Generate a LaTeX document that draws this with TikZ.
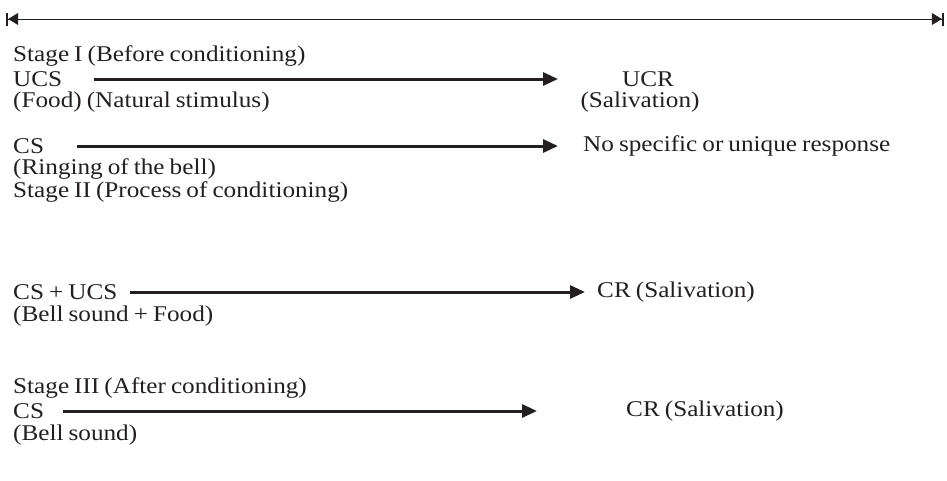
\documentclass[tikz,border=0pt]{standalone}
\usepackage{fontspec}
\setmainfont{Liberation Serif}[FakeStretch=1.12,WordSpace=0.8]
\usetikzlibrary{arrows.meta}
\definecolor{ink}{HTML}{231F20}
\begin{document}
\begin{tikzpicture}[x=1pt,y=-1pt,
  lbl/.style={anchor=west,inner sep=0pt,font=\fontsize{22.5}{25}\selectfont,text=ink},
  ctr/.style={anchor=center,inner sep=0pt,font=\fontsize{22.5}{25}\selectfont,text=ink},
  conn/.style={draw=ink,line width=3pt,-{Triangle[length=15pt,width=13pt]}},
  span/.style={draw=ink,line width=1pt,{Bar[width=13pt,line width=2.2pt]Triangle[length=10pt,width=12pt]}-{Triangle[length=10pt,width=12pt]Bar[width=13pt,line width=2.2pt]}}]
\useasboundingbox (0,0) rectangle (947,480);
% overall span line at the top
\coordinate (spanL) at (6,19);
\coordinate (spanR) at (944,19);
\draw[span] (spanL) -- (spanR);
% Stage I
\node[lbl] (s1) at (13,56) {Stage I (Before conditioning)};
\node[lbl] (ucs) at (13,79) {UCS};
\node[ctr] (ucr) at (648,79) {UCR};
\node[lbl] (food) at (13,102) {(Food) (Natural stimulus)};
\node[ctr] (sal1) at (640,102) {(Salivation)};
\coordinate (a1s) at (94,79);
\coordinate (a1e) at (558,79);
\draw[conn] (a1s) -- (a1e);
\node[lbl] (cs1) at (13,146) {CS};
\node[lbl] (nores) at (583,146) {No specific or unique response};
\coordinate (a2s) at (77,146);
\coordinate (a2e) at (558,146);
\draw[conn] (a2s) -- (a2e);
\node[lbl] (bell1) at (13,169) {(Ringing of the bell)};
% Stage II
\node[lbl] (s2) at (13,192) {Stage II (Process of conditioning)};
\node[lbl] (csucs) at (13,292) {CS + UCS};
\node[lbl] (cr1) at (597,292) {CR (Salivation)};
\coordinate (a3s) at (130,292);
\coordinate (a3e) at (585,292);
\draw[conn] (a3s) -- (a3e);
\node[lbl] (bellfood) at (13,316) {(Bell sound + Food)};
% Stage III
\node[lbl] (s3) at (13,388) {Stage III (After conditioning)};
\node[lbl] (cs2) at (13,411) {CS};
\node[lbl] (cr2) at (626,411) {CR (Salivation)};
\coordinate (a4s) at (63,411);
\coordinate (a4e) at (537,411);
\draw[conn] (a4s) -- (a4e);
\node[lbl] (bell2) at (13,435) {(Bell sound)};
\end{tikzpicture}
\end{document}
